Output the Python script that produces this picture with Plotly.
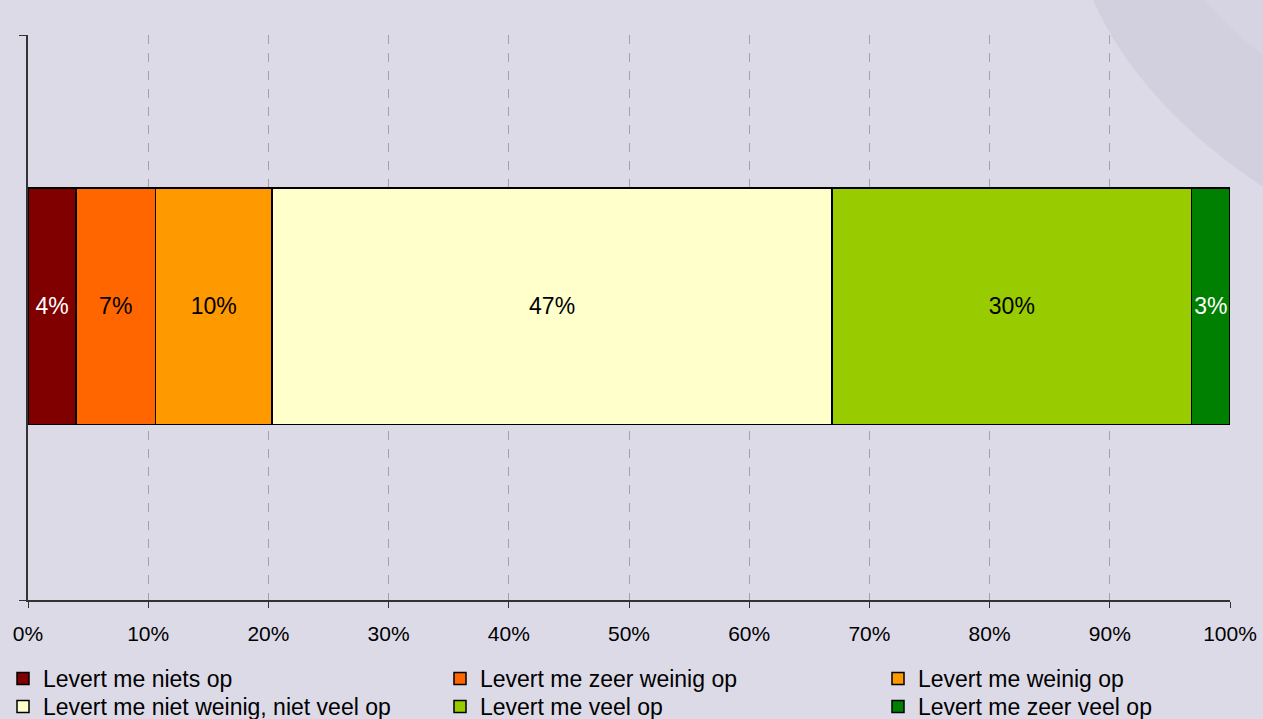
import plotly.graph_objects as go

categories = ["Levert me niets op", "Levert me zeer weinig op", "Levert me weinig op",
              "Levert me niet weinig, niet veel op", "Levert me veel op", "Levert me zeer veel op"]
values = [4.0, 6.6, 9.7, 46.6, 29.9, 3.2]
labels = ["4%", "7%", "10%", "47%", "30%", "3%"]
colors = ["#800000", "#FF6600", "#FF9900", "#FFFFCC", "#99CC00", "#008000"]
text_colors = ["white", "black", "black", "black", "black", "white"]
tick_vals = [0, 10, 20, 30, 40, 50, 60, 70, 80, 90, 100]
tick_text = ["0%", "10%", "20%", "30%", "40%", "50%", "60%", "70%", "80%", "90%", "100%"]

FONT = "Liberation Sans, Arial, sans-serif"
W, H = 1263, 719
ML, MR, MT, MB = 28, 33, 35, 119
PW, PH = W - ML - MR, H - MT - MB


def px_x(px):
    return (px - ML) / PW


def px_y(py):
    return (H - MB - py) / PH


legend_names = ["legend", "legend2", "legend3", "legend4", "legend5", "legend6"]
# legend layout: 3 columns, 2 rows
legend_cols_px = [3, 440, 878]
legend_rows_px = [657, 685]

fig = go.Figure()
for i, (name, v, lab, c, tc) in enumerate(zip(categories, values, labels, colors, text_colors)):
    fig.add_trace(go.Bar(
        x=[v], y=[0], orientation="h", name=name, width=0.418,
        marker=dict(color=c, line=dict(color="black", width=1.5)),
        text=[lab], textposition="inside", insidetextanchor="middle",
        textangle=0,
        textfont=dict(color=tc, size=23, family=FONT),
        constraintext="none", hoverinfo="name+x",
        legend=legend_names[i],
    ))

bg = "#DCDAE7"
layout = dict(
    barmode="stack",
    width=W, height=H,
    paper_bgcolor=bg, plot_bgcolor="rgba(0,0,0,0)",
    margin=dict(l=ML, r=MR, t=MT, b=MB, autoexpand=False),
    font=dict(family=FONT, size=21, color="black"),
    xaxis=dict(range=[0, 100], tickvals=tick_vals, ticktext=tick_text,
               showgrid=True, gridcolor="#A3A2AC", griddash="dash", gridwidth=1,
               zeroline=False, showline=True, linecolor="#333333", linewidth=1.5,
               ticks="outside", ticklen=6, tickcolor="#333333",
               ticklabelstandoff=8,
               tickfont=dict(size=21), fixedrange=True),
    yaxis=dict(range=[-0.52, 0.48], showgrid=False, zeroline=False,
               showline=True, linecolor="#333333", linewidth=1.5,
               tickvals=[-0.52, 0.48], ticks="outside", ticklen=7, tickcolor="#333333",
               showticklabels=False, fixedrange=True),
    showlegend=True,
    shapes=[
        dict(type="path", xref="paper", yref="paper", layer="below",
             path=f"M {px_x(1093):.4f},{px_y(0):.4f} Q {px_x(1140):.4f},{px_y(105):.4f} "
                  f"{px_x(1263):.4f},{px_y(187):.4f} L {px_x(1263):.4f},{px_y(0):.4f} Z",
             fillcolor="#D2D0DE", line=dict(width=0)),
        dict(type="path", xref="paper", yref="paper", layer="below",
             path=f"M {px_x(1205):.4f},{px_y(0):.4f} Q {px_x(1230):.4f},{px_y(30):.4f} "
                  f"{px_x(1263):.4f},{px_y(55):.4f} L {px_x(1263):.4f},{px_y(0):.4f} Z",
             fillcolor="#D6D4E2", line=dict(width=0)),
    ],
)
for i, ln in enumerate(legend_names):
    col, row = i % 3, i // 3
    layout[ln] = dict(
        x=px_x(legend_cols_px[col]), xanchor="left",
        y=px_y(legend_rows_px[row]), yanchor="top",
        font=dict(size=23, family=FONT), itemwidth=30,
        bgcolor="rgba(0,0,0,0)", borderwidth=0,
    )
fig.update_layout(**layout)

fig.write_html("out.html")
